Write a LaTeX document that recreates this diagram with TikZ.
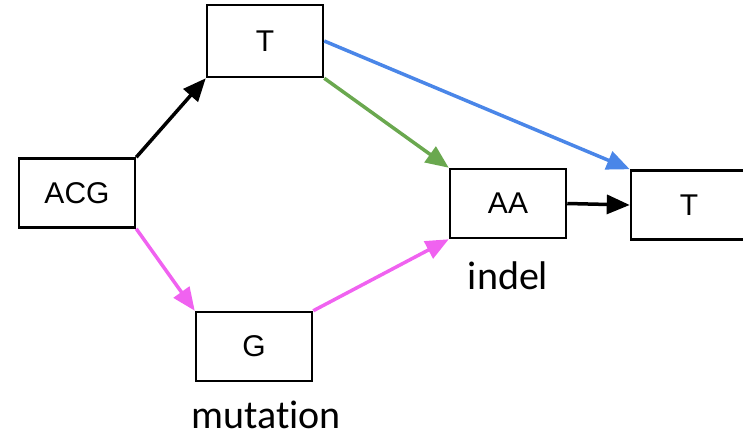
\documentclass[tikz,border=0pt]{standalone}
\usepackage{fontspec}
\setmainfont{Carlito}[Ligatures={NoCommon}]
\newfontfamily\boxfont{Liberation Sans}
\usetikzlibrary{arrows.meta}

\definecolor{edgeblue}{RGB}{74,134,232}
\definecolor{edgegreen}{RGB}{106,168,79}
\definecolor{edgepink}{RGB}{240,98,240}

\begin{document}
\begin{tikzpicture}[x=1pt,y=-1pt,
    seq/.style={rectangle,draw,line width=2.5pt,minimum width=116pt,minimum height=69pt,inner sep=0pt,font=\boxfont\fontsize{30}{34}\selectfont},
    tag/.style={inner sep=0pt,anchor=base,font=\fontsize{40}{46}\selectfont},
    edge/.style={line width=3.5pt,-{Triangle[length=23pt,width=19pt]}}]

\clip (0,0) rectangle (743,436);

\node[seq] (acg) at (77,193) {ACG};
\node[seq,minimum height=72pt] (t1) at (265,41) {T};
\node[seq] (aa) at (508,203.5) {AA};
\node[seq] (t2) at (689,205) {T};
\node[seq] (g) at (254,346.5) {G};

\node[tag] (indel) at (508,289) {indel};
\node[tag] (mutation) at (266,428) {mutation};

\draw[edge] (acg.north east) -- (t1.south west);
\draw[edge,edgeblue] (t1.east) -- (t2.north west);
\draw[edge,edgegreen] (t1.south east) -- (aa.north west);
\draw[edge,edgepink] (acg.south east) -- (g.north west);
\draw[edge,edgepink] (g.north east) -- (aa.south west);
\draw[edge] (aa.east) -- (t2.west);
\end{tikzpicture}
\end{document}
